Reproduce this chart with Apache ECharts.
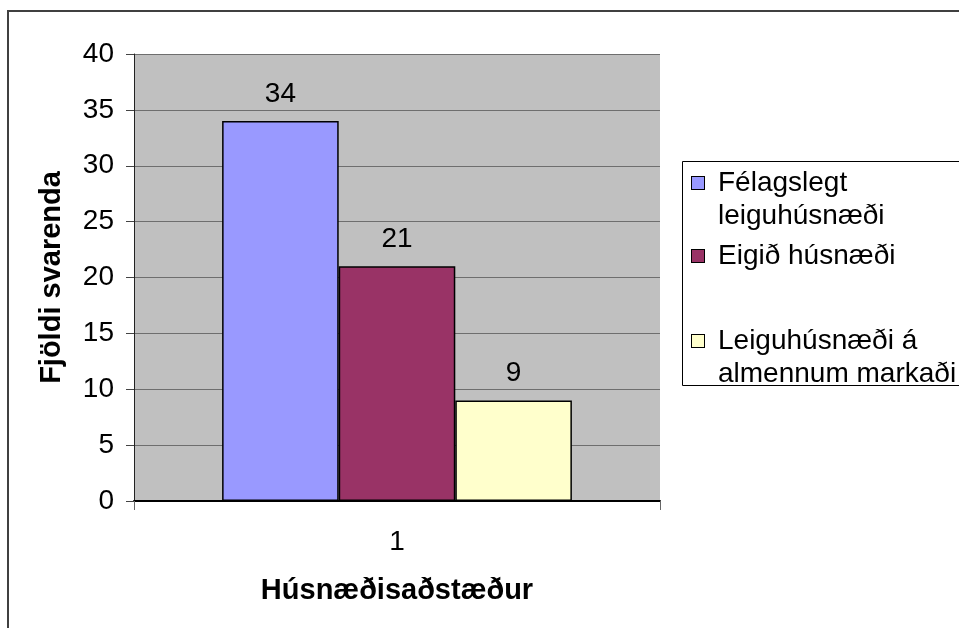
<!DOCTYPE html>
<html>
<head>
<meta charset="utf-8">
<script src="https://cdn.jsdelivr.net/npm/echarts@6/dist/echarts.min.js"></script>
<style>
html,body{margin:0;padding:0;background:#fff;}
#c{width:959px;height:628px;}
</style>
</head>
<body>
<div id="c"></div>
<script>
const categories = ['1'];
const seriesNames = ['Félagslegt leiguhúsnæði', 'Eigið húsnæði', 'Leiguhúsnæði á almennum markaði'];
const seriesValues = [[34], [21], [9]];
const seriesColors = ['#9999FF', '#993366', '#FFFFCC'];
const yTicks = { min: 0, max: 40, interval: 5 };
const yTitle = 'Fjöldi svarenda';
const xTitle = 'Húsnæðisaðstæður';
const legendLines = [
  ['Félagslegt', 'leiguhúsnæði'],
  ['Eigið húsnæði'],
  ['Leiguhúsnæði á', 'almennum markaði']
];

const FONT = "'Liberation Sans', Arial, sans-serif";
const FS = 28;
const FSB = 29;

const rich = {
  gap: { width: 14 },
  ind: { width: 26 },
  t: { fontSize: FS, lineHeight: 33, color: '#000', fontFamily: FONT }
};
seriesColors.forEach((c, i) => {
  rich['sq' + i] = { width: 12, height: 12, backgroundColor: c, borderColor: '#000', borderWidth: 1 };
});

const legendTops = [169, 242, 327];
const legends = seriesNames.map((n, i) => ({
  show: true,
  data: [n],
  orient: 'vertical',
  left: 687,
  top: legendTops[i],
  icon: 'none',
  itemWidth: 0,
  itemHeight: 0,
  padding: 0,
  selectedMode: false,
  textStyle: { rich: rich, fontSize: FS, fontFamily: FONT, color: '#000' },
  formatter: function () {
    const lines = legendLines[i];
    let s = '{sq' + i + '|}{gap|}{t|' + lines[0] + '}';
    for (let k = 1; k < lines.length; k++) s += '\n{ind|}{t|' + lines[k] + '}';
    return s;
  }
}));

const chart = echarts.init(document.getElementById('c'), null, { renderer: 'canvas' });
chart.setOption({
  backgroundColor: '#ffffff',
  animation: false,
  textStyle: { fontFamily: FONT },
  graphic: [
    { type: 'rect', z: -10, shape: { x: 8, y: 11, width: 1000, height: 700 }, style: { fill: 'none', stroke: '#404040', lineWidth: 2 } },
    { type: 'rect', z: -10, shape: { x: 682.5, y: 161.5, width: 400, height: 224 }, style: { fill: '#fff', stroke: '#000', lineWidth: 1 } }
  ],
  legend: legends,
  grid: {
    left: 134, right: 299, top: 54, bottom: 127,
    show: true, backgroundColor: '#C0C0C0', borderWidth: 0,
    containLabel: false, outerBoundsMode: 'none'
  },
  xAxis: {
    type: 'category',
    data: categories,
    name: xTitle,
    nameLocation: 'middle',
    nameGap: 75,
    nameTextStyle: { fontSize: FSB, fontWeight: 'bold', color: '#000', fontFamily: FONT },
    axisLine: { show: true, lineStyle: { color: '#000', width: 2 } },
    axisTick: { show: true, length: 9, alignWithLabel: false, lineStyle: { color: '#666', width: 1 } },
    axisLabel: { margin: 27, fontSize: FS, color: '#000', fontFamily: FONT },
    splitLine: { show: false }
  },
  yAxis: {
    type: 'value',
    min: yTicks.min, max: yTicks.max, interval: yTicks.interval,
    name: yTitle,
    nameLocation: 'middle',
    nameGap: 68,
    nameRotate: 90,
    nameTextStyle: { fontSize: FSB, fontWeight: 'bold', color: '#000', fontFamily: FONT },
    axisLine: { show: true, lineStyle: { color: '#222', width: 1 } },
    axisTick: { show: true, length: 8, inside: false, lineStyle: { color: '#444', width: 1 } },
    axisLabel: { margin: 20, fontSize: FS, color: '#000', fontFamily: FONT },
    splitLine: { show: true, lineStyle: { color: '#6e6e6e', width: 1 } }
  },
  series: seriesNames.map((n, i) => ({
    type: 'bar',
    name: n,
    data: seriesValues[i],
    barGap: '0%',
    barCategoryGap: '33.5%',
    itemStyle: { color: seriesColors[i], borderColor: '#000', borderWidth: 1.5 },
    label: { show: true, position: 'top', distance: 13, fontSize: FS, color: '#000', fontFamily: FONT },
    emphasis: { disabled: true }
  }))
});
</script>
</body>
</html>
